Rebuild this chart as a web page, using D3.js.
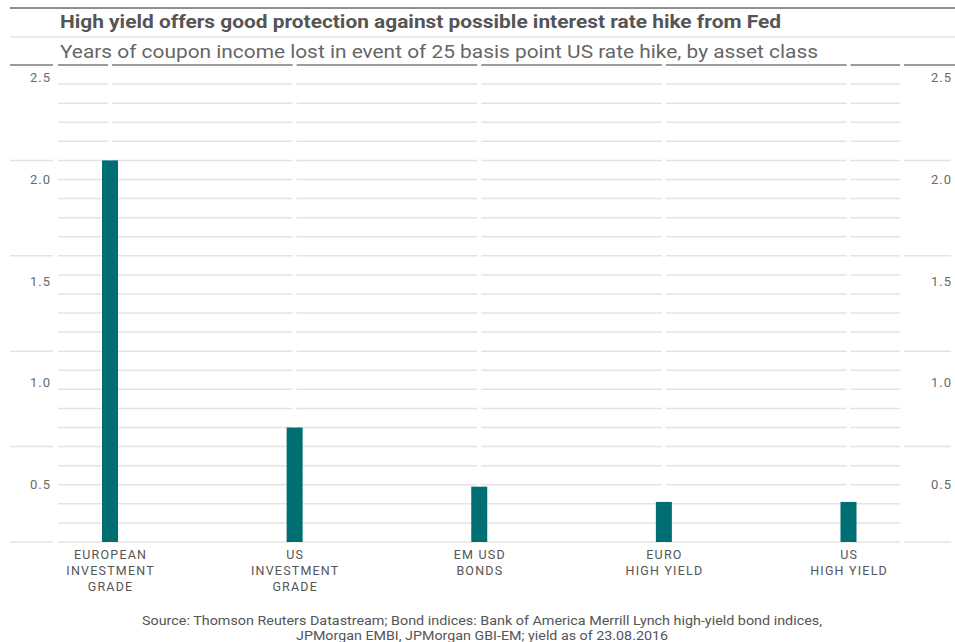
<!DOCTYPE html>
<html>
<head>
<meta charset="utf-8">
<script src="https://cdn.jsdelivr.net/npm/d3@7"></script>
<style>
  html, body { margin: 0; padding: 0; background: #fff; }
  svg { display: block; font-family: Roboto, "Noto Sans", sans-serif; }
</style>
</head>
<body>
<svg id="chart" width="955" height="642"></svg>
<script>
// ---- data ----
const categories = ["EUROPEAN INVESTMENT GRADE", "US INVESTMENT GRADE", "EM USD BONDS", "EURO HIGH YIELD", "US HIGH YIELD"];
const categoryLines = [["EUROPEAN", "INVESTMENT", "GRADE"], ["US", "INVESTMENT", "GRADE"], ["EM USD", "BONDS"], ["EURO", "HIGH YIELD"], ["US", "HIGH YIELD"]];
const values = [2.0, 0.6, 0.29, 0.21, 0.21];
const tickValues = [0.5, 1.0, 1.5, 2.0, 2.5];
const tickLabels = ["0.5", "1.0", "1.5", "2.0", "2.5"];
const titleText = "High yield offers good protection against possible interest rate hike from Fed";
const subtitleText = "Years of coupon income lost in event of 25 basis point US rate hike, by asset class";
const sourceLines = ["Source: Thomson Reuters Datastream; Bond indices: Bank of America Merrill Lynch high-yield bond indices,",
                     "JPMorgan EMBI, JPMorgan GBI-EM; yield as of 23.08.2016"];

// ---- layout ----
const svg = d3.select("#chart");
const plotTop = 65, plotBottom = 542;
const leftCol = [10, 53], rightCol = [904, 951];
const plotLeft = 58, plotRight = 900;

const x = d3.scalePoint().domain(categories).range([110, 848.5]);
const y = d3.scaleLinear().domain([0, 2.5]).range([plotBottom, plotTop]);
const labelY = d3.scaleLinear().domain([0.5, 2.5]).range([484, 77]);

// plot columns split at each bar centre
const cuts = categories.map(c => x(c));
const cols = [];
let start = plotLeft;
cuts.forEach(c => { cols.push([start, c - 2]); start = c + 2; });
cols.push([start, plotRight]);

// header rules
svg.append("line").attr("x1", 10).attr("x2", 955).attr("y1", 8).attr("y2", 8)
  .attr("stroke", "#8f8f8f").attr("stroke-width", 2);
svg.append("line").attr("x1", 10).attr("x2", 955).attr("y1", 37).attr("y2", 37)
  .attr("stroke", "#e4e4e4").attr("stroke-width", 1.5);

// title & subtitle
svg.append("text").attr("x", 60).attr("y", 28)
  .attr("font-size", 18).attr("font-weight", 700).attr("fill", "#555")
  .attr("textLength", 721).attr("lengthAdjust", "spacingAndGlyphs")
  .text(titleText);
svg.append("text").attr("x", 60).attr("y", 58)
  .attr("font-size", 18).attr("fill", "#666")
  .attr("textLength", 758).attr("lengthAdjust", "spacingAndGlyphs")
  .text(subtitleText);

// gridlines
const gridVals = d3.range(0, 26).map(i => i / 10);
const g = svg.append("g");
gridVals.forEach(v => {
  const isTop = Math.abs(v - 2.5) < 1e-9;
  const isMajor = Math.abs(v * 2 - Math.round(v * 2)) < 1e-9;
  const stroke = isTop ? "#9c9c9c" : "#e3e3e3";
  const sw = isTop ? 2 : 1.5;
  const segs = cols.slice();
  if (isMajor) { segs.push(leftCol); segs.push(isTop ? [904, 955] : rightCol); }
  segs.forEach(s => {
    g.append("line").attr("x1", s[0]).attr("x2", s[1])
      .attr("y1", y(v)).attr("y2", y(v))
      .attr("stroke", stroke).attr("stroke-width", sw);
  });
});

// bars
const barW = 16;
svg.append("g").selectAll("rect").data(values).join("rect")
  .attr("x", (d, i) => x(categories[i]) - barW / 2)
  .attr("width", barW)
  .attr("y", d => y(d))
  .attr("height", d => y(0) - y(d))
  .attr("fill", "#006f74");

// y tick labels (left and right)
[51, 952].forEach(xx => {
  svg.append("g").selectAll("text").data(tickValues).join("text")
    .attr("x", xx).attr("y", d => labelY(d) + 5)
    .attr("text-anchor", "end")
    .attr("font-size", 13).attr("letter-spacing", "1px").attr("fill", "#6a6a6a")
    .text((d, i) => tickLabels[i]);
});

// category labels
categoryLines.forEach((lines, i) => {
  const t = svg.append("text").attr("text-anchor", "middle")
    .attr("font-size", 12.5).attr("letter-spacing", "1.2px").attr("fill", "#555");
  lines.forEach((ln, j) => {
    t.append("tspan").attr("x", x(categories[i]) + 0.6).attr("y", 558.5 + j * 16).text(ln);
  });
});

// source
svg.append("text").attr("x", 142).attr("y", 625)
  .attr("font-size", 13).attr("fill", "#555")
  .attr("textLength", 680).attr("lengthAdjust", "spacingAndGlyphs")
  .text(sourceLines[0]);
svg.append("text").attr("x", 296).attr("y", 640)
  .attr("font-size", 13).attr("fill", "#555")
  .attr("textLength", 372).attr("lengthAdjust", "spacingAndGlyphs")
  .text(sourceLines[1]);
</script>
</body>
</html>
